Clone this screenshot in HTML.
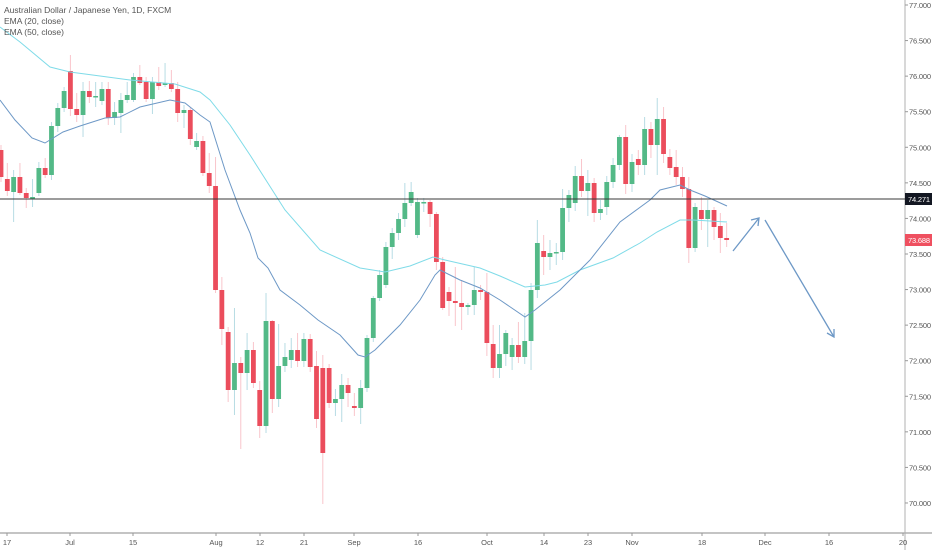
<!DOCTYPE html>
<html><head><meta charset="utf-8">
<style>
html,body{margin:0;padding:0;background:#fff;}
svg{display:block;font-family:"Liberation Sans",sans-serif;}
</style></head>
<body>
<svg id="s" width="932" height="550" viewBox="0 0 932 550" xmlns="http://www.w3.org/2000/svg">
<rect width="932" height="550" fill="#fff"/>
<g id="axes"></g>
<g id="candles"></g>
<polyline fill="none" stroke="#7fdbe8" stroke-width="1" points="0,27 20,42 50,67 70,72 100,76 130,80 175,84 200,92 210,100 230,125 250,155 285,210 320,250 360,268 385,272 410,266 433,257 445,260 480,268 500,276 525,287 545,285 557,282 580,270 613,258 640,243 657,232 680,220 693,220 727,222"/>
<polyline fill="none" stroke="#6d98c6" stroke-width="1" points="0,100 15,120 32,138 45,143 63,132 80,126 105,118 120,117 140,107 170,100 185,103 200,115 210,122 225,170 240,210 250,233 258,258 268,268 280,290 300,305 318,320 340,335 358,355 365,357 375,350 400,325 420,300 435,275 440,270 460,280 480,288 500,300 525,317 535,310 560,290 590,260 620,222 650,200 660,190 680,185 690,190 705,196 727,206"/>
<line x1="0" y1="199" x2="905" y2="199" stroke="#3a3a3a" stroke-width="1"/>
<g stroke="#6d98c6" stroke-width="1.3" fill="none">
<line x1="733" y1="251" x2="759" y2="218"/>
<polyline points="751,220 759,218 758,226"/>
<line x1="765" y1="220" x2="834" y2="337"/>
<polyline points="827,333 834,337 834,329"/>
</g>
<g font-size="8.5" fill="#555">
<text x="4" y="13">Australian Dollar / Japanese Yen, 1D, FXCM</text>
<text x="4" y="24">EMA (20, close)</text>
<text x="4" y="35">EMA (50, close)</text>
</g>
</svg>
<script>
var s=document.getElementById('axes'),c=document.getElementById('candles');
var NS='http://www.w3.org/2000/svg';
function el(p,t,a,txt){var e=document.createElementNS(NS,t);for(var k in a)e.setAttribute(k,a[k]);if(txt!=null)e.textContent=txt;p.appendChild(e);return e;}
el(s,'line',{x1:905,y1:0,x2:905,y2:550,stroke:'#b0b0b0','stroke-width':1});
el(s,'line',{x1:0,y1:533,x2:932,y2:533,stroke:'#b0b0b0','stroke-width':1.5});
for(var i=0;i<=14;i++){var p=77-i*0.5,y=5+(77-p)*71.14;
el(s,'line',{x1:905,y1:y,x2:908,y2:y,stroke:'#999'});
el(s,'text',{x:909,y:y+3,'font-size':7.5,fill:'#555',textLength:22},p.toFixed(3));}
var xl=[[7,'17'],[70,'Jul'],[133,'15'],[216,'Aug'],[260,'12'],[304,'21'],[354,'Sep'],[418,'16'],[487,'Oct'],[544,'14'],[588,'23'],[632,'Nov'],[702,'18'],[765,'Dec'],[829,'16'],[903,'20']];
xl.forEach(function(a){el(s,'line',{x1:a[0],y1:533,x2:a[0],y2:536,stroke:'#999'});el(s,'text',{x:a[0],y:545,'font-size':7.5,fill:'#555','text-anchor':'middle'},a[1]);});
el(s,'rect',{x:905,y:193,width:27,height:12,fill:'#131722'});
el(s,'text',{x:908,y:202,'font-size':7.5,fill:'#fff',textLength:22},'74.271');
el(s,'rect',{x:905,y:234,width:27,height:12,fill:'#ef5060'});
el(s,'text',{x:908,y:243,'font-size':7.5,fill:'#fff',textLength:22},'73.688');
var d=[[150,177,145,182],[179,191,163,196],[192,177,170,222],[177,193,163,195],[193,198,188,208],[198,197,179,207],[193,168,162,196],[168,175,158,178],[175,126,122,180],[126,108,103,132],[108,91,87,112],[71,109,55,116],[109,115,93,122],[115,91,82,137],[91,97,81,103],[97,96,82,107],[101,89,82,105],[89,118,82,125],[118,112,102,125],[113,100,93,133],[100,95,82,103],[100,77,73,102],[77,83,65,85],[82,99,77,102],[99,82,77,114],[82,86,67,90],[85,83,63,87],[83,89,70,92],[89,113,82,122],[113,110,105,128],[110,139,107,145],[147,141,133,150],[141,173,136,176],[173,186,153,193],[186,290,157,293],[290,329,277,345],[332,390,327,402],[390,363,308,415],[363,373,357,449],[373,350,333,390],[350,383,342,388],[390,426,381,438],[426,321,293,433],[321,399,320,413],[399,366,324,407],[366,357,343,372],[360,350,338,368],[350,361,333,367],[361,339,333,367],[339,367,334,372],[366,419,351,428],[368,453,355,504],[368,403,364,408],[403,399,389,416],[399,385,374,422],[385,393,378,407],[406,408,393,416],[408,388,380,424],[388,338,335,392],[338,298,296,342],[298,275,270,301],[285,247,242,288],[247,233,228,259],[233,219,213,240],[219,203,183,227],[203,192,182,206],[235,202,198,238],[203,202,198,212],[202,214,200,227],[214,262,212,270],[262,308,257,310],[292,301,287,316],[301,303,267,326],[303,307,280,330],[307,305,303,315],[305,290,267,315],[290,292,285,300],[292,343,273,356],[344,368,325,378],[368,354,325,378],[354,333,330,366],[357,345,338,370],[345,357,322,363],[357,341,313,364],[341,290,283,370],[290,243,220,298],[251,257,235,275],[257,253,240,270],[253,252,243,265],[252,208,189,260],[208,195,190,222],[203,176,166,211],[176,191,159,197],[191,183,170,216],[183,213,178,222],[213,209,200,220],[207,182,176,215],[182,165,158,188],[165,137,135,170],[137,184,125,194],[184,162,154,192],[159,165,150,175],[165,129,117,175],[129,145,122,158],[145,119,98,175],[119,154,107,163],[157,168,149,175],[167,177,150,185],[177,189,167,197],[189,248,177,263],[248,207,203,252],[210,219,197,230],[219,210,200,247],[210,227,207,240],[226,238,213,253],[238,240,223,247]];
d.forEach(function(k,i){var x=1+i*6.31;var g=k[1]<k[0];
el(c,'line',{x1:x,y1:k[2],x2:x,y2:k[3],stroke:g?'#b7dce4':'#f9c5cb','stroke-width':1});
var t=Math.min(k[0],k[1]),h=Math.max(1.5,Math.abs(k[1]-k[0]));
el(c,'rect',{x:x-2.4,y:t,width:4.8,height:h,fill:g?'#53b987':'#eb4d5c'});});
</script>
</body></html>
